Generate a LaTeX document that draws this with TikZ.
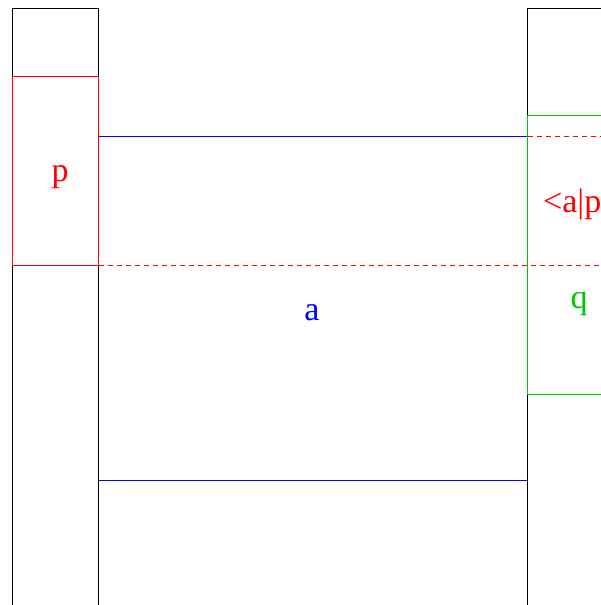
\documentclass[tikz,border=0pt]{standalone}
\usepackage{fontspec}
\setmainfont{Liberation Serif}
\definecolor{pgreen}{RGB}{0,200,0}
\begin{document}
\begin{tikzpicture}[x=1pt, y=-1pt,
    column/.style={draw=black, line width=1.1pt},
    frame/.style={line width=1.1pt},
    cut/.style={draw=red, line width=1.1pt, dash pattern=on 5pt off 4pt},
    lbl/.style={inner sep=0pt, anchor=base, font=\fontsize{34}{40}\selectfont},
  ]
  \useasboundingbox (0,0) rectangle (601,605);
  \clip (0,0) rectangle (601,605);

  % shared block a
  \draw[frame, draw=blue] (98.5,136.5) rectangle (527.5,480.5);

  % the two columns
  \draw[column] (12.5,620) |- (98.5,8.5) -- (98.5,620);
  \draw[column] (527.5,620) |- (640,8.5);

  % block p and block q
  \draw[frame, draw=red] (12.5,76.5) rectangle (98.5,265.5);
  \draw[frame, draw=pgreen] (640,115.5) -| (527.5,394.5) -- (640,394.5);

  % dashed guides
  \draw[cut] (98.5,265.5) -- (640,265.5);
  \draw[cut] (527.5,136.5) -- (640,136.5);

  \node[lbl, text=red] (p) at (60,181) {p};
  \node[lbl, text=blue] (a) at (312,320) {a};
  \node[lbl, text=pgreen] (q) at (579,308) {q};
  \node[lbl, text=red, anchor=base west] (ap) at (543,212) {<a|p};
\end{tikzpicture}
\end{document}
